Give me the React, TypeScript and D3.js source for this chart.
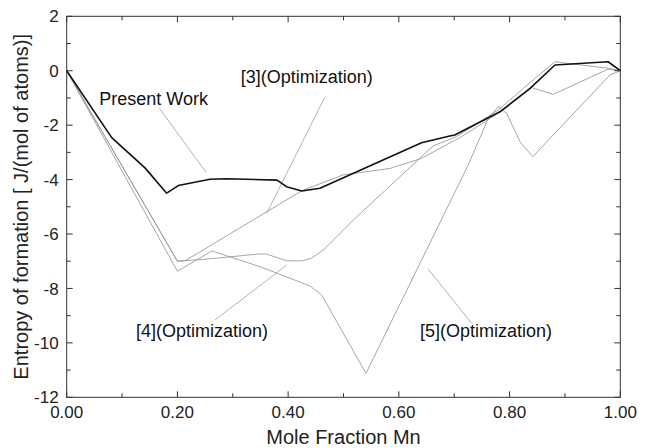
import React from "react";
import * as d3 from "d3";

const xTicks = [0, 0.2, 0.4, 0.6, 0.8, 1.0];
const xMinor = [0.1, 0.3, 0.5, 0.7, 0.9];
const yTicks = [2, 0, -2, -4, -6, -8, -10, -12];
const yMinor = [1, -1, -3, -5, -7, -9, -11];

const presentX = [0, 0.0813, 0.1414, 0.1806, 0.2016, 0.2589, 0.289, 0.38, 0.397, 0.4245, 0.4575, 0.641, 0.692, 0.701, 0.7826, 0.837, 0.882, 0.978, 1.0];
const presentY = [0, -2.46, -3.57, -4.5, -4.22, -3.99, -3.97, -4.02, -4.26, -4.42, -4.32, -2.65, -2.4, -2.36, -1.51, -0.65, 0.21, 0.33, 0];

const ref4X = [0, 0.2, 0.2535, 0.349, 0.361, 0.397, 0.424, 0.442, 0.4635, 0.518, 0.615, 0.662, 0.7045, 0.7796, 0.846, 0.882, 0.978, 1.0];
const ref4Y = [0, -7.0, -6.92, -6.73, -6.74, -6.98, -6.99, -6.89, -6.59, -5.48, -3.65, -2.76, -2.42, -1.44, -0.28, 0.33, 0.09, 0];

const ref3X = [0, 0.2, 0.215, 0.4245, 0.499, 0.584, 0.641, 0.7135, 0.7887, 0.84, 0.879, 0.978, 1.0];
const ref3Y = [0, -7.0, -6.97, -4.41, -3.83, -3.59, -3.22, -2.42, -1.44, -0.62, -0.87, 0.06, 0];

const ref5X = [0, 0.2, 0.262, 0.349, 0.4395, 0.4606, 0.5406, 0.7254, 0.7615, 0.7796, 0.7948, 0.8188, 0.8418, 0.981, 1.0];
const ref5Y = [0, -7.37, -6.62, -7.2, -7.91, -8.24, -11.12, -3.46, -1.75, -1.32, -1.57, -2.61, -3.16, -0.16, 0];

const labelText = ["Present Work", "[3](Optimization)", "[4](Optimization)", "[5](Optimization)"];
const labelX = [0.0589, 0.3143, 0.125, 0.638];
const labelY = [-1.26, -0.45, -9.78, -9.78];
const leaderX1 = [0.1673, 0.4666, 0.2679, 0.6526];
const leaderY1 = [-1.38, -0.955, -9.16, -7.28];
const leaderX2 = [0.2516, 0.3613, 0.3974, 0.7316];
const leaderY2 = [-3.73, -5.24, -7.14, -9.28];

const W = 648, H = 448;
const L = 66.7, R = 620.3, T = 16.3, B = 397.3;
const FONT = "'Liberation Sans', Arial, sans-serif";

export default function App() {
  const x = d3.scaleLinear().domain([0, 1]).range([L, R]);
  const y = d3.scaleLinear().domain([-12, 2]).range([B, T]);
  const line = d3.line<[number, number]>().x(d => x(d[0])).y(d => y(d[1]));
  const zip = (xs: number[], ys: number[]) => xs.map((v, i) => [v, ys[i]] as [number, number]);

  const grays = [zip(ref3X, ref3Y), zip(ref4X, ref4Y), zip(ref5X, ref5Y)];

  return (
    <div style={{ position: "absolute", left: 0, top: 0 }}>
      <svg width={W} height={H} style={{ display: "block", background: "#fff" }}>
        {leaderX1.map((v, i) => (
          <line key={"ld" + i} x1={x(v)} y1={y(leaderY1[i])} x2={x(leaderX2[i])} y2={y(leaderY2[i])} stroke="#a0a0a0" strokeWidth={0.8} />
        ))}
        {grays.map((g, i) => (
          <path key={"g" + i} d={line(g) || ""} fill="none" stroke="#969696" strokeWidth={0.85} />
        ))}
        <path d={line(zip(presentX, presentY)) || ""} fill="none" stroke="#111" strokeWidth={1.6} strokeLinejoin="round" />
        <rect x={L} y={T} width={R - L} height={B - T} fill="none" stroke="#333" strokeWidth={1} />
        {xTicks.map((t, i) => (
          <g key={"xt" + i}>
            <line x1={x(t)} x2={x(t)} y1={B} y2={B - 6} stroke="#333" />
            <line x1={x(t)} x2={x(t)} y1={T} y2={T + 6} stroke="#333" />
            <text x={x(t)} y={B + 21} textAnchor="middle" fontSize={17} fontFamily={FONT} fill="#222">{t.toFixed(2)}</text>
          </g>
        ))}
        {xMinor.map((t, i) => (
          <g key={"xm" + i}>
            <line x1={x(t)} x2={x(t)} y1={B} y2={B - 4} stroke="#333" />
            <line x1={x(t)} x2={x(t)} y1={T} y2={T + 4} stroke="#333" />
          </g>
        ))}
        {yTicks.map((t, i) => (
          <g key={"yt" + i}>
            <line x1={L} x2={L + 6} y1={y(t)} y2={y(t)} stroke="#333" />
            <line x1={R} x2={R - 6} y1={y(t)} y2={y(t)} stroke="#333" />
            <text x={L - 8} y={y(t)} dy="0.36em" textAnchor="end" fontSize={17} fontFamily={FONT} fill="#222">{t}</text>
          </g>
        ))}
        {yMinor.map((t, i) => (
          <g key={"ym" + i}>
            <line x1={L} x2={L + 4} y1={y(t)} y2={y(t)} stroke="#333" />
            <line x1={R} x2={R - 4} y1={y(t)} y2={y(t)} stroke="#333" />
          </g>
        ))}
        {labelText.map((s, i) => (
          <text key={"lb" + i} x={x(labelX[i])} y={y(labelY[i])} fontSize={18} fontFamily={FONT} fill="#111">{s}</text>
        ))}
        <text x={(L + R) / 2} y={444} textAnchor="middle" fontSize={20} fontFamily={FONT} fill="#222">Mole Fraction Mn</text>
        <text transform={`translate(28,${(T + B) / 2}) rotate(-90)`} textAnchor="middle" fontSize={20} fontFamily={FONT} fill="#222">Entropy of formation [ J/(mol of atoms)]</text>
      </svg>
    </div>
  );
}
